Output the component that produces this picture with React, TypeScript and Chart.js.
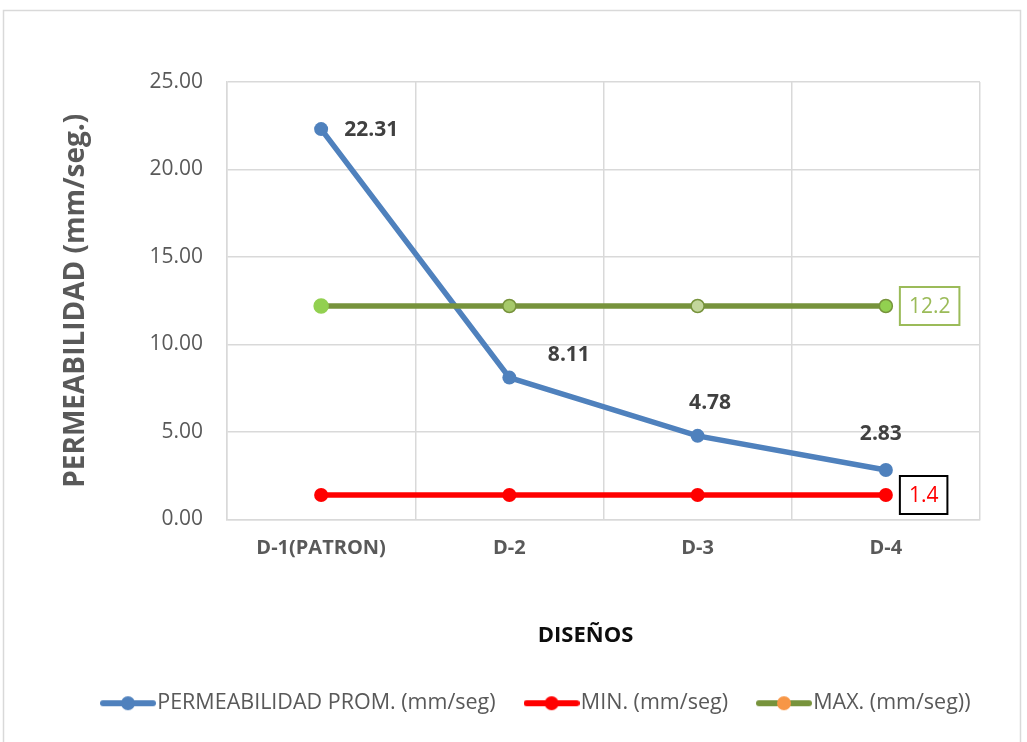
import React, { useEffect, useRef } from 'react';
import { Chart, registerables } from 'chart.js';

Chart.register(...registerables);

// ---- data ----
const categories = ['D-1(PATRON)', 'D-2', 'D-3', 'D-4'];
const permeabilidadProm = [22.31, 8.11, 4.78, 2.83];
const minPermeabilidad = [1.4, 1.4, 1.4, 1.4];
const maxPermeabilidad = [12.2, 12.2, 12.2, 12.2];
const seriesLabels = ['PERMEABILIDAD PROM. (mm/seg)', 'MIN. (mm/seg)', 'MAX. (mm/seg))'];
const yTickValues = [0, 5, 10, 15, 20, 25];
const yAxisTitle = 'PERMEABILIDAD (mm/seg.)';
const xAxisTitle = 'DISEÑOS';

// ---- style ----
const FONT = "'Open Sans', sans-serif";
const BLUE = '#4F81BD';
const RED = '#FF0000';
const GREEN_LINE = '#77933C';
const GRID = '#D9D9D9';
const TEXT_GRAY = '#595959';
// label offsets (dx, dy, align) for the PROM series, as placed in the original
const promLabelOffsets: [number, number, CanvasTextAlign][] = [
  [23, 1, 'left'],
  [59.5, -23, 'center'],
  [12.5, -33, 'center'],
  [-5, -36, 'center'],
];

function makeLegendImage(lineColor: string, dotColor: string): HTMLCanvasElement {
  const c = document.createElement('canvas');
  c.width = 56;
  c.height = 16;
  const ctx = c.getContext('2d')!;
  ctx.strokeStyle = lineColor;
  ctx.lineWidth = 6;
  ctx.lineCap = 'round';
  ctx.beginPath();
  ctx.moveTo(3, 8);
  ctx.lineTo(53, 8);
  ctx.stroke();
  ctx.fillStyle = dotColor;
  ctx.beginPath();
  ctx.arc(28, 8, 7, 0, Math.PI * 2);
  ctx.fill();
  return c;
}

const decorPlugin = {
  id: 'decor',
  beforeDraw(chart: any) {
    const ctx = chart.ctx as CanvasRenderingContext2D;
    ctx.save();
    ctx.fillStyle = '#ffffff';
    ctx.fillRect(0, 0, chart.width, chart.height);
    ctx.strokeStyle = GRID;
    ctx.lineWidth = 1.5;
    ctx.strokeRect(3.5, 10.5, chart.width - 10, chart.height + 20);
    ctx.restore();
  },
  afterDatasetsDraw(chart: any) {
    const ctx = chart.ctx as CanvasRenderingContext2D;
    ctx.save();
    // PROM labels
    const meta0 = chart.getDatasetMeta(0);
    ctx.font = `bold 21px ${FONT}`;
    ctx.fillStyle = '#404040';
    ctx.textBaseline = 'middle';
    meta0.data.forEach((pt: any, i: number) => {
      const [dx, dy, align] = promLabelOffsets[i];
      ctx.textAlign = align;
      ctx.fillText(permeabilidadProm[i].toFixed(2), pt.x + dx, pt.y + dy);
    });
    // boxed labels for MIN and MAX at last point
    const boxed = [
      { ds: 1, values: minPermeabilidad, text: RED, border: '#000000' },
      { ds: 2, values: maxPermeabilidad, text: '#9BBB59', border: '#9BBB59' },
    ];
    ctx.font = `21px ${FONT}`;
    boxed.forEach((b) => {
      const meta = chart.getDatasetMeta(b.ds);
      const last = meta.data.length - 1;
      const pt = meta.data[last];
      const label = String(b.values[last]);
      const tw = ctx.measureText(label).width;
      const w = tw + 18;
      const h = 38;
      const left = pt.x + 14;
      const top = pt.y - h / 2;
      ctx.fillStyle = '#ffffff';
      ctx.fillRect(left, top, w, h);
      ctx.strokeStyle = b.border;
      ctx.lineWidth = 2;
      ctx.strokeRect(left, top, w, h);
      ctx.fillStyle = b.text;
      ctx.textAlign = 'center';
      ctx.textBaseline = 'middle';
      ctx.fillText(label, left + w / 2, pt.y + 1);
    });
    ctx.restore();
  },
  afterDraw(chart: any) {
    const ctx = chart.ctx as CanvasRenderingContext2D;
    const area = chart.chartArea;
    ctx.save();
    ctx.font = `bold 22px ${FONT}`;
    ctx.fillStyle = '#0D0D0D';
    ctx.textAlign = 'center';
    ctx.textBaseline = 'middle';
    ctx.fillText(xAxisTitle, (area.left + area.right) / 2 - 18, area.bottom + 116);
    ctx.restore();
  },
};

export default function App() {
  const ref = useRef<HTMLCanvasElement>(null);

  useEffect(() => {
    document.body.style.margin = '0';
    const canvas = ref.current!;
    const legendImages = [
      makeLegendImage(BLUE, BLUE),
      makeLegendImage(RED, RED),
      makeLegendImage(GREEN_LINE, '#F79646'),
    ];
    const legendColors = [BLUE, RED, GREEN_LINE];

    const chart = new Chart(canvas, {
      type: 'line',
      data: {
        labels: categories,
        datasets: [
          {
            label: seriesLabels[0],
            data: permeabilidadProm,
            borderColor: BLUE,
            backgroundColor: BLUE,
            borderWidth: 5.5,
            pointRadius: 7,
            pointBackgroundColor: BLUE,
            pointBorderColor: BLUE,
            pointBorderWidth: 0,
            tension: 0,
            order: 3,
          },
          {
            label: seriesLabels[1],
            data: minPermeabilidad,
            borderColor: RED,
            backgroundColor: RED,
            borderWidth: 5.5,
            pointRadius: 7,
            pointBackgroundColor: RED,
            pointBorderColor: RED,
            pointBorderWidth: 0,
            tension: 0,
            order: 2,
          },
          {
            label: seriesLabels[2],
            data: maxPermeabilidad,
            borderColor: GREEN_LINE,
            backgroundColor: GREEN_LINE,
            borderWidth: 5.5,
            pointRadius: [7, 6.5, 6.5, 6.5],
            pointBackgroundColor: ['#92D050', '#A6C96A', '#C3D69B', '#92D050'],
            pointBorderColor: ['#92D050', GREEN_LINE, GREEN_LINE, GREEN_LINE],
            pointBorderWidth: 1.5,
            tension: 0,
            order: 1,
          },
        ],
      },
      options: {
        responsive: false,
        animation: false,
        devicePixelRatio: 1,
        layout: { padding: { left: 53, right: 0, top: 82, bottom: 18 } },
        plugins: {
          tooltip: { enabled: false },
          title: { display: false },
          legend: {
            display: true,
            position: 'bottom',
            labels: {
              usePointStyle: true,
              pointStyleWidth: 37,
              padding: 37.5,
              color: TEXT_GRAY,
              font: { family: FONT, size: 21.5 },
              generateLabels: (ch: any) =>
                ch.data.datasets.map((ds: any, i: number) => ({
                  text: ds.label,
                  fillStyle: legendColors[i],
                  strokeStyle: legendColors[i],
                  lineWidth: 0,
                  pointStyle: legendImages[i],
                  hidden: false,
                  datasetIndex: i,
                  fontColor: TEXT_GRAY,
                })),
            },
          },
        },
        scales: {
          x: {
            type: 'category',
            offset: true,
            grid: { display: true, offset: true, color: GRID, lineWidth: 1.5, drawTicks: false },
            border: { display: true, color: GRID, width: 1.5 },
            ticks: {
              color: TEXT_GRAY,
              padding: 17,
              font: { family: FONT, size: 20, weight: 'bold' },
            },
            afterFit: (scale: any) => {
              scale.height = 135.5;
            },
          },
          y: {
            type: 'linear',
            min: yTickValues[0],
            max: yTickValues[yTickValues.length - 1],
            afterBuildTicks: (scale: any) => {
              scale.ticks = yTickValues.map((v) => ({ value: v }));
            },
            grid: { display: true, color: GRID, lineWidth: 1.5, drawTicks: false },
            border: { display: true, color: GRID, width: 1.5 },
            ticks: {
              color: TEXT_GRAY,
              padding: 24,
              font: { family: FONT, size: 21 },
              callback: (v: any) => Number(v).toFixed(2),
            },
            title: {
              display: true,
              text: yAxisTitle,
              color: TEXT_GRAY,
              font: { family: FONT, size: 28, weight: 'bold' },
              padding: { top: 6.7, bottom: 0 },
            },
            afterFit: (scale: any) => {
              scale.width = 174;
            },
          },
          yRight: {
            type: 'linear',
            position: 'right',
            display: true,
            grid: { display: false, drawTicks: false },
            border: { display: false },
            ticks: { display: false },
            afterFit: (scale: any) => {
              scale.width = 47;
            },
          },
        },
      },
      plugins: [decorPlugin],
    } as any);

    return () => chart.destroy();
  }, []);

  return (
    <div style={{ width: 1027, height: 742 }}>
      <canvas ref={ref} width={1027} height={742} style={{ display: 'block' }} />
    </div>
  );
}
